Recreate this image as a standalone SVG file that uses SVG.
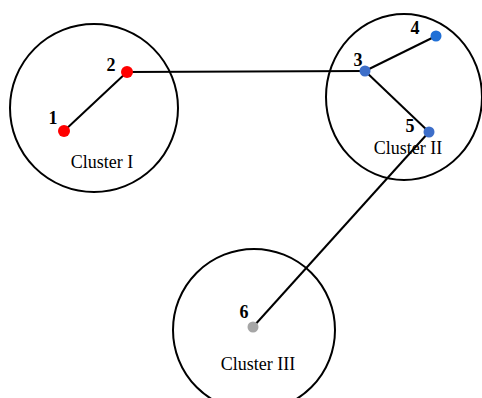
<svg xmlns="http://www.w3.org/2000/svg" width="482" height="398" viewBox="0 0 482 398">
<style>
.cl{fill:none;stroke:#000;stroke-width:2}
.ed{stroke:#000;stroke-width:2;fill:none}
.num{font-family:"Liberation Serif",serif;font-weight:bold;font-size:18px;fill:#000}
.lab{font-family:"Liberation Serif",serif;font-size:18px;fill:#000}
</style>
<rect width="482" height="398" fill="#fff"/>
<g id="clusters">
<g id="cluster1"><circle class="cl" cx="94" cy="108" r="84"/><text class="lab" x="102" y="168" text-anchor="middle">Cluster I</text></g>
<g id="cluster2"><ellipse class="cl" cx="404" cy="97" rx="78" ry="83"/><text class="lab" x="408" y="154" text-anchor="middle">Cluster II</text></g>
<g id="cluster3"><circle class="cl" cx="254" cy="330" r="81"/><text class="lab" x="258" y="370" text-anchor="middle">Cluster III</text></g>
</g>
<g id="connectors">
<line class="ed" x1="64" y1="131" x2="127" y2="72"/>
<line class="ed" x1="127" y1="72" x2="365" y2="71"/>
<line class="ed" x1="365" y1="71" x2="436" y2="36"/>
<line class="ed" x1="365" y1="71" x2="429" y2="132"/>
<line class="ed" x1="429" y1="132" x2="253" y2="327"/>
</g>
<g id="n1"><circle cx="64" cy="131" r="6" fill="#ff0000"/><text class="num" x="53" y="124" text-anchor="middle">1</text></g>
<g id="n2"><circle cx="127" cy="72" r="6" fill="#ff0000"/><text class="num" x="111" y="71" text-anchor="middle">2</text></g>
<g id="n3"><circle cx="365" cy="71" r="5.5" fill="#3d6ec9"/><text class="num" x="358" y="66" text-anchor="middle">3</text></g>
<g id="n4"><circle cx="436" cy="36" r="5.5" fill="#1f6fd6"/><text class="num" x="415" y="34" text-anchor="middle">4</text></g>
<g id="n5"><circle cx="429" cy="132" r="5.5" fill="#3d6ec9"/><text class="num" x="410" y="132" text-anchor="middle">5</text></g>
<g id="n6"><circle cx="253" cy="327" r="5.5" fill="#a6a6a6"/><text class="num" x="244" y="318" text-anchor="middle">6</text></g>
</svg>
